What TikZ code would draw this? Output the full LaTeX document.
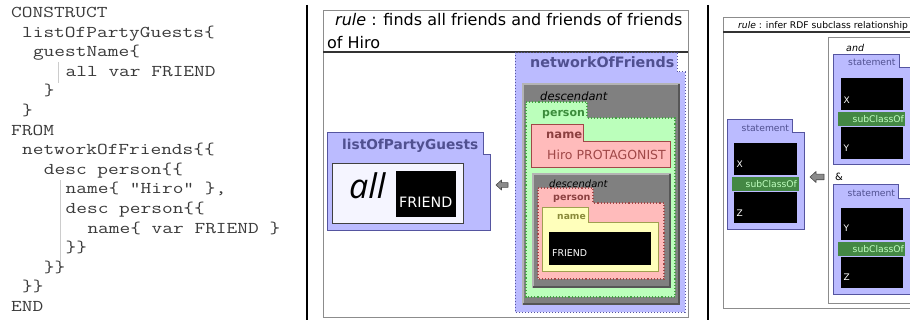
\documentclass[tikz,border=0pt]{standalone}
\usepackage{fontspec}
\usepackage{graphicx}
\newfontfamily\dv{DejaVu Sans}
\newfontfamily\os{Open Sans}
\definecolor{bluefill}{HTML}{BBBBFF}
\definecolor{blueline}{HTML}{5555A0}
\definecolor{bluetext}{HTML}{505090}
\definecolor{grayfill}{HTML}{808080}
\definecolor{graylight}{HTML}{B4B4B4}
\definecolor{graydark}{HTML}{565656}
\definecolor{greenfill}{HTML}{BBFFBB}
\definecolor{greenline}{HTML}{44A044}
\definecolor{greentext}{HTML}{3C8C3C}
\definecolor{pinkfill}{HTML}{FFBBBB}
\definecolor{pinkline}{HTML}{A04848}
\definecolor{pinktext}{HTML}{8C4040}
\definecolor{yelfill}{HTML}{FFFFBB}
\definecolor{yelline}{HTML}{A0A050}
\definecolor{yeltext}{HTML}{8A8A3A}
\definecolor{barfill}{HTML}{448844}
\definecolor{bartext}{HTML}{C0FFC0}
\definecolor{codetext}{HTML}{3A3A3A}
\newcommand\fs[1]{\fontsize{#1}{#1}\selectfont}
\newcommand\cl[1]{\scalebox{1.26}[1]{#1}}
\begin{document}
\begin{tikzpicture}[x=1pt,y=-1pt,
  txt/.style={inner sep=0pt, anchor=base west},
  code/.style={txt, text=codetext, font=\ttfamily\fs{16.5}},
  frame/.style={draw=black!45, line width=0.9pt},
  sep/.style={draw=black, line width=2.6pt},
  titleline/.style={draw=black!80, line width=1.4pt},
  bluebox/.style={fill=bluefill, draw=blueline, line width=1pt},
  blueboxd/.style={fill=bluefill, draw=blueline, line width=1pt, dotted},
  greenbox/.style={fill=greenfill, draw=greenline, line width=1.1pt, dotted},
  pinkbox/.style={fill=pinkfill, draw=pinkline, line width=1pt},
  pinkboxd/.style={fill=pinkfill, draw=pinkline, line width=1.1pt, dotted},
  yelbox/.style={fill=yelfill, draw=yelline, line width=1pt},
  blackbox/.style={fill=black},
  bar/.style={fill=barfill},
  codebar/.style={draw=black!20, line width=0.8pt},
  arrowshape/.style={fill=black!45, draw=black!70, line width=0.6pt, line join=round}
]
\useasboundingbox (0,0) rectangle (910,320);
\fill[white] (0,0) rectangle (910,320);

% ---------- code panel ----------
\node[code] (c1)  at (11,17.5)  {\cl{CONSTRUCT}};
\node[code] (c2)  at (21.9,37.1) {\cl{listOfPartyGuests\{}};
\node[code] (c3)  at (32.8,56.7) {\cl{guestName\{}};
\node[code] (c4)  at (65.5,76.3) {\cl{all var FRIEND}};
\node[code] (c5)  at (43.7,95.9) {\cl{\}}};
\node[code] (c6)  at (21.9,115.5) {\cl{\}}};
\node[code] (c7)  at (11,135.1) {\cl{FROM}};
\node[code] (c8)  at (21.9,154.7) {\cl{networkOfFriends\{\{}};
\node[code] (c9)  at (43.7,174.3) {\cl{desc person\{\{}};
\node[code] (c10) at (65.5,193.9) {\cl{name\{ "Hiro" \},}};
\node[code] (c11) at (65.5,213.5) {\cl{desc person\{\{}};
\node[code] (c12) at (87.3,233.1) {\cl{name\{ var FRIEND \}}};
\node[code] (c13) at (65.5,252.7) {\cl{\}\}}};
\node[code] (c14) at (43.7,272.3) {\cl{\}\}}};
\node[code] (c15) at (21.9,291.9) {\cl{\}\}}};
\node[code] (c16) at (11,311.5) {\cl{END}};
\draw[codebar] (58,62) -- (58,83);
\draw[codebar] (60,180) -- (60,262);

% separators
\draw[sep] (307,5) -- (307,320);
\draw[sep] (708,5) -- (708,320);

% ---------- middle panel ----------
\draw[frame] (323,10) rectangle (688,317);
\draw[titleline] (323,52) -- (688,52);
\node[txt, font=\dv\fs{16}] (t1) at (335,26) {\textit{rule} : finds all friends and friends of friends};
\node[txt, font=\dv\fs{16}] (t2) at (327,48.5) {of Hiro};

% networkOfFriends
\draw[blueboxd] (515,53) -- (677,53) -- (677,72) -- (685,72) -- (685,312) -- (515,312) -- cycle;
\node[txt, font=\dv\bfseries\fs{14.3}, text=bluetext] (nof) at (530,68) {networkOfFriends};

% outer descendant
\fill[grayfill] (522,83) rectangle (680,305);
\draw[graylight, line width=2.4pt] (523.2,305) -- (523.2,84.2) -- (680,84.2);
\draw[graydark, line width=2.4pt] (678.8,84.2) -- (678.8,303.8) -- (523.2,303.8);
\node[txt, font=\dv\itshape\fs{11.5}] (d1) at (540,101) {descendant};

% person (green)
\draw[greenbox] (526,102) -- (587,102) -- (587,118) -- (675,118) -- (675,297) -- (526,297) -- cycle;
\node[txt, font=\dv\bfseries\fs{11}, text=greentext] (p1) at (542,117) {person};

% name Hiro
\draw[pinkbox] (531,125) -- (583,125) -- (583,142) -- (670,142) -- (670,168) -- (531,168) -- cycle;
\node[txt, font=\dv\bfseries\fs{11.6}, text=pinktext] (n1) at (546,138.5) {name};
\node[txt, font=\dv\fs{12.5}, text=pinkline] (hiro) at (547,159.5) {Hiro PROTAGONIST};

% inner descendant
\fill[grayfill] (532,173) rectangle (671,288);
\draw[graylight, line width=2.2pt] (533.1,288) -- (533.1,174.1) -- (671,174.1);
\draw[graydark, line width=2.2pt] (669.9,174.1) -- (669.9,286.9) -- (533.1,286.9);
\node[txt, font=\dv\itshape\fs{10}] (d2) at (549,187.5) {descendant};

% inner person (pink, dotted)
\draw[pinkboxd] (538,188) -- (593,188) -- (593,203) -- (664,203) -- (664,279) -- (538,279) -- cycle;
\node[txt, font=\dv\bfseries\fs{9.6}, text=pinktext] (p2) at (553,200.5) {person};

% inner name (yellow)
\draw[yelbox] (542,208) -- (588,208) -- (588,223) -- (658,223) -- (658,272) -- (542,272) -- cycle;
\node[txt, font=\dv\bfseries\fs{9.2}, text=yeltext] (n2) at (557,219.5) {name};
\fill[blackbox] (549,232) rectangle (651,265);
\node[txt, font=\dv\fs{9.4}, text=white] (f2) at (552,256.5) {FRIEND};

% listOfPartyGuests
\draw[bluebox] (327,133) -- (483,133) -- (483,155) -- (490,155) -- (490,231) -- (327,231) -- cycle;
\node[txt, font=\dv\bfseries\fs{13.7}, text=bluetext] (lpg) at (342,150) {listOfPartyGuests};
\draw[fill=white!96!blue, draw=black!75, line width=0.9pt] (332,163) rectangle (463,223);
\node[txt, font=\os\itshape\fs{34}] (all) at (349,199) {all};
\fill[blackbox] (396,171) rectangle (456,217);
\node[txt, font=\dv\fs{14.3}, text=white] (f1) at (399,207.5) {FRIEND};

% arrow middle
\draw[arrowshape] (496,185) -- (501.5,180) -- (501.5,182.6) -- (508,182.6) -- (508,187.4) -- (501.5,187.4) -- (501.5,190) -- cycle;

% ---------- right panel ----------
\begin{scope}
\clip (710,0) rectangle (910,320);
\draw[frame] (723,17) rectangle (930,308);
\draw[titleline, line width=1.1pt] (723,32) -- (930,32);
\node[txt, font=\dv\fs{9.2}] (t3) at (738,28.5) {\textit{rule} : infer RDF subclass relationship};

\draw[draw=black!45, line width=0.8pt, fill=white] (828,37) rectangle (930,303);
\node[txt, font=\dv\itshape\fs{9.5}] (and) at (846,51.5) {and};

% top statement
\draw[bluebox] (833,55) -- (899,55) -- (899,68) -- (913,68) -- (913,165) -- (833,165) -- cycle;
\node[txt, font=\dv\fs{9.2}, text=bluetext] (s1) at (848,65.5) {statement};
\fill[blackbox] (841,78) rectangle (903,110);
\node[txt, font=\dv\fs{9}, text=white] (x1) at (843.5,103.5) {X};
\fill[bar] (838,112) rectangle (905,126);
\node[txt, font=\dv\fs{9.2}, text=bartext] (sc1) at (852.5,122.5) {subClassOf};
\fill[blackbox] (841,127) rectangle (903,159);
\node[txt, font=\dv\fs{9}, text=white] (y1) at (843.5,151.5) {Y};

\node[txt, font=\dv\fs{10}] (amp) at (835,181) {\&};

% bottom statement
\draw[bluebox] (833,185) -- (898,185) -- (898,199) -- (913,199) -- (913,295) -- (833,295) -- cycle;
\node[txt, font=\dv\fs{9.2}, text=bluetext] (s2) at (847.5,196.5) {statement};
\fill[blackbox] (841,208) rectangle (903,240);
\node[txt, font=\dv\fs{9}, text=white] (y2) at (843.5,231.5) {Y};
\fill[bar] (838,242) rectangle (905,256);
\node[txt, font=\dv\fs{9.2}, text=bartext] (sc2) at (852.5,252.5) {subClassOf};
\fill[blackbox] (841,257) rectangle (903,288);
\node[txt, font=\dv\fs{9}, text=white] (z2) at (843.5,280.5) {Z};
\end{scope}

% left statement
\draw[bluebox] (727,120) -- (792,120) -- (792,133) -- (804,133) -- (804,230) -- (727,230) -- cycle;
\node[txt, font=\dv\fs{9.2}, text=bluetext] (s3) at (741.5,131.5) {statement};
\fill[blackbox] (734,143) rectangle (797,175);
\node[txt, font=\dv\fs{9}, text=white] (x3) at (736.5,167.5) {X};
\fill[bar] (732,177) rectangle (799,191);
\node[txt, font=\dv\fs{9.2}, text=bartext] (sc3) at (745.5,187.5) {subClassOf};
\fill[blackbox] (734,192) rectangle (797,223);
\node[txt, font=\dv\fs{9}, text=white] (z3) at (736.5,216.5) {Z};

% arrow right
\draw[arrowshape] (810,177) -- (816,171.5) -- (816,174.2) -- (824,174.2) -- (824,179.8) -- (816,179.8) -- (816,182.5) -- cycle;
\end{tikzpicture}
\end{document}
